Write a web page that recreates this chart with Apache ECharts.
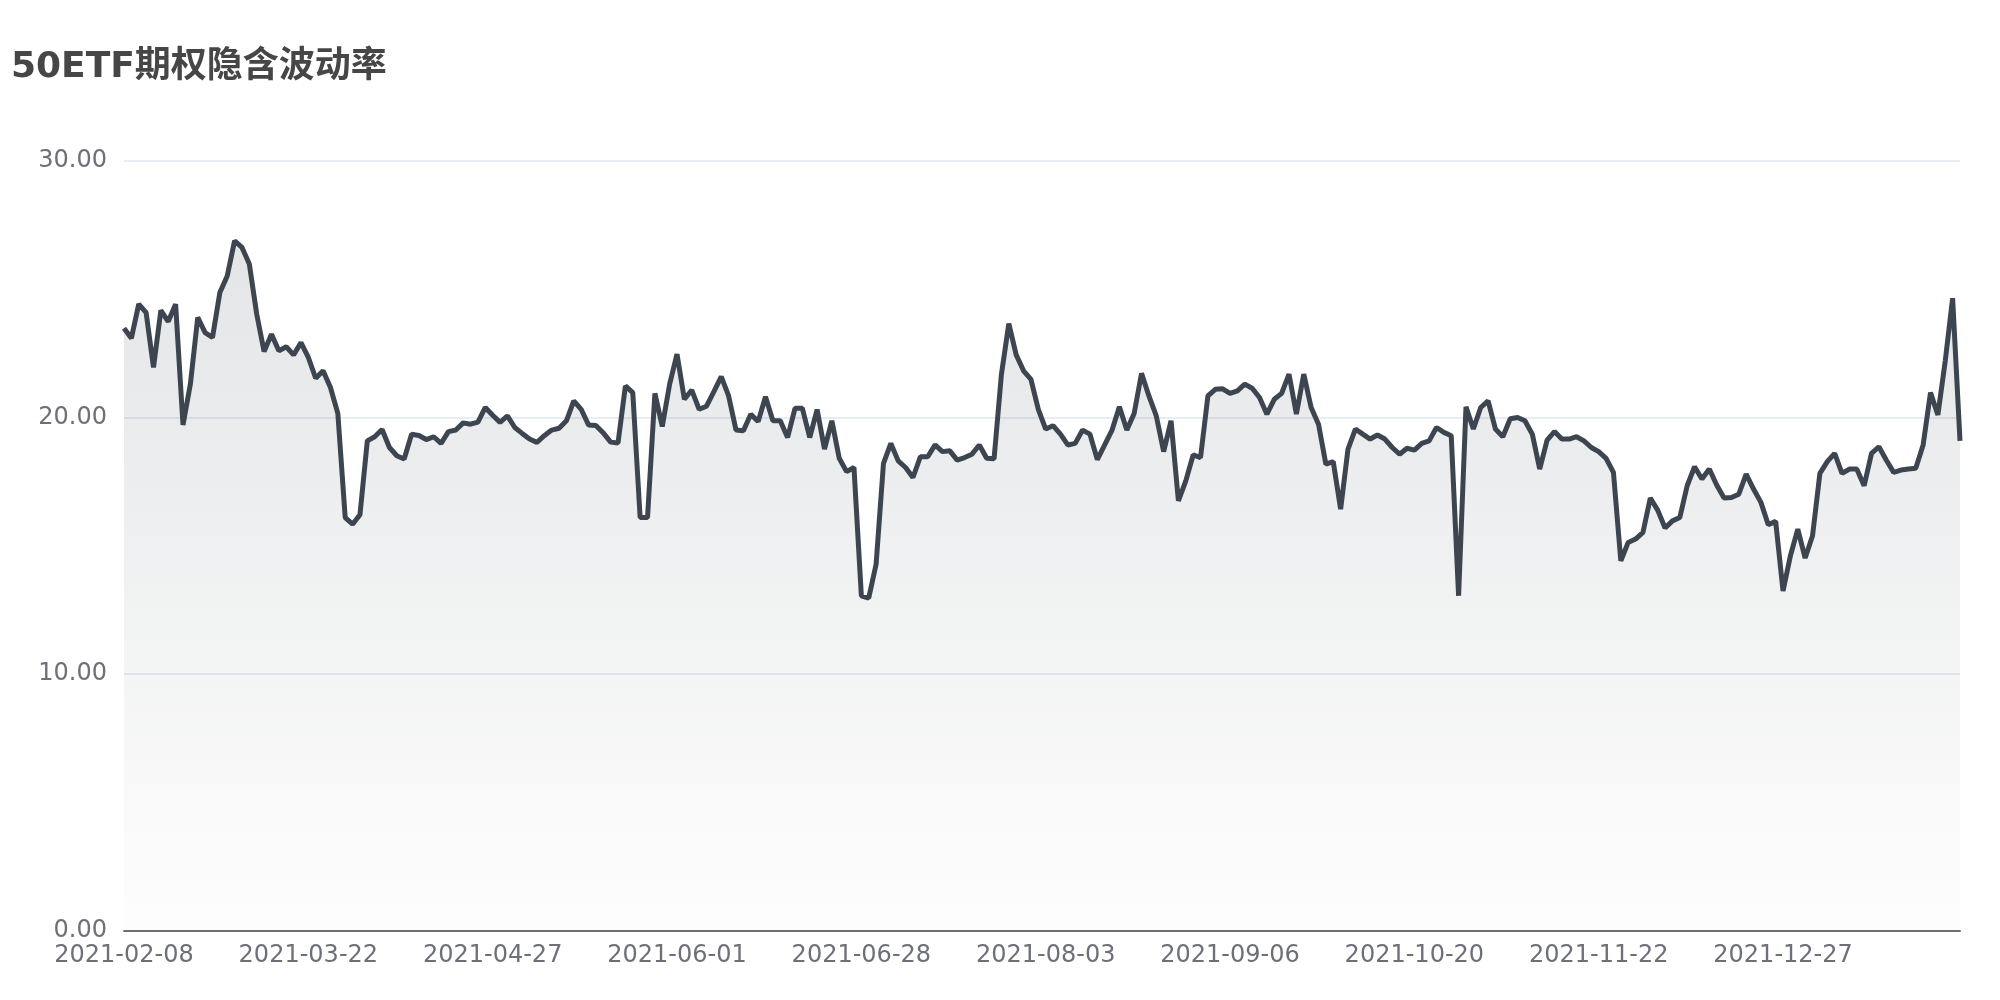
<!DOCTYPE html>
<html>
<head>
<meta charset="utf-8">
<script src="https://cdn.jsdelivr.net/npm/echarts@6/dist/echarts.min.js"></script>
<style>html,body{margin:0;padding:0;background:#fff}#c{width:2000px;height:1000px}</style>
</head>
<body>
<div id="c"></div>
<script>
const titleText = '50ETF期权隐含波动率';

const dates = [
'2021-02-08','2021-02-09','2021-02-10','2021-02-18','2021-02-19','2021-02-22','2021-02-23','2021-02-24','2021-02-25','2021-02-26',
'2021-03-01','2021-03-02','2021-03-03','2021-03-04','2021-03-05','2021-03-08','2021-03-09','2021-03-10','2021-03-11','2021-03-12',
'2021-03-15','2021-03-16','2021-03-17','2021-03-18','2021-03-19',
'2021-03-22','2021-03-23','2021-03-24','2021-03-25','2021-03-26','2021-03-29','2021-03-30','2021-03-31','2021-04-01','2021-04-02',
'2021-04-06','2021-04-07','2021-04-08','2021-04-09','2021-04-12','2021-04-13','2021-04-14','2021-04-15','2021-04-16','2021-04-19',
'2021-04-20','2021-04-21','2021-04-22','2021-04-23','2021-04-26',
'2021-04-27','2021-04-28','2021-04-29','2021-04-30','2021-05-03','2021-05-04','2021-05-05','2021-05-06','2021-05-07','2021-05-10',
'2021-05-11','2021-05-12','2021-05-13','2021-05-14','2021-05-17','2021-05-18','2021-05-19','2021-05-20','2021-05-21','2021-05-24',
'2021-05-25','2021-05-26','2021-05-27','2021-05-28','2021-05-31',
'2021-06-01','2021-06-02','2021-06-03','2021-06-04','2021-06-05','2021-06-07','2021-06-08','2021-06-09','2021-06-10','2021-06-11',
'2021-06-12','2021-06-14','2021-06-15','2021-06-16','2021-06-17','2021-06-18','2021-06-19','2021-06-20','2021-06-21','2021-06-22',
'2021-06-23','2021-06-24','2021-06-25','2021-06-26','2021-06-27',
'2021-06-28','2021-06-29','2021-06-30','2021-07-01','2021-07-02','2021-07-05','2021-07-06','2021-07-07','2021-07-08','2021-07-09',
'2021-07-12','2021-07-13','2021-07-14','2021-07-15','2021-07-16','2021-07-19','2021-07-20','2021-07-21','2021-07-22','2021-07-23',
'2021-07-26','2021-07-27','2021-07-28','2021-07-29','2021-07-30',
'2021-08-03','2021-08-04','2021-08-05','2021-08-06','2021-08-09','2021-08-10','2021-08-11','2021-08-12','2021-08-13','2021-08-16',
'2021-08-17','2021-08-18','2021-08-19','2021-08-20','2021-08-23','2021-08-24','2021-08-25','2021-08-26','2021-08-27','2021-08-30',
'2021-08-31','2021-09-01','2021-09-02','2021-09-03','2021-09-04',
'2021-09-06','2021-09-07','2021-09-08','2021-09-09','2021-09-10','2021-09-13','2021-09-14','2021-09-15','2021-09-16','2021-09-17',
'2021-09-22','2021-09-23','2021-09-24','2021-09-27','2021-09-28','2021-09-29','2021-09-30','2021-10-08','2021-10-11','2021-10-12',
'2021-10-13','2021-10-14','2021-10-15','2021-10-18','2021-10-19',
'2021-10-20','2021-10-21','2021-10-22','2021-10-23','2021-10-25','2021-10-26','2021-10-27','2021-10-28','2021-10-29','2021-11-01',
'2021-11-02','2021-11-03','2021-11-04','2021-11-05','2021-11-06','2021-11-08','2021-11-09','2021-11-10','2021-11-11','2021-11-12',
'2021-11-15','2021-11-16','2021-11-17','2021-11-18','2021-11-19',
'2021-11-22','2021-11-23','2021-11-24','2021-11-25','2021-11-26','2021-11-29','2021-11-30','2021-12-01','2021-12-02','2021-12-03',
'2021-12-06','2021-12-07','2021-12-08','2021-12-09','2021-12-10','2021-12-13','2021-12-14','2021-12-15','2021-12-16','2021-12-17',
'2021-12-20','2021-12-21','2021-12-22','2021-12-23','2021-12-24',
'2021-12-27','2021-12-28','2021-12-29','2021-12-30','2021-12-31','2022-01-04','2022-01-05','2022-01-06','2022-01-07','2022-01-10',
'2022-01-11','2022-01-12','2022-01-13','2022-01-14','2022-01-17','2022-01-18','2022-01-19','2022-01-20','2022-01-21','2022-01-24',
'2022-01-25','2022-01-26','2022-01-27','2022-01-28','2022-01-29'
];

const ivValues = [
23.48,23.09,24.42,24.09,21.95,24.18,23.74,24.42,19.71,21.30,
23.90,23.31,23.12,24.87,25.52,26.89,26.63,25.98,24.03,22.57,
23.25,22.60,22.76,22.44,22.92,22.34,21.53,21.82,21.17,20.16,
16.10,15.84,16.21,19.09,19.25,19.53,18.83,18.51,18.38,19.35,
19.30,19.14,19.25,18.99,19.45,19.51,19.79,19.74,19.82,20.39,
20.09,19.81,20.06,19.61,19.38,19.16,19.03,19.29,19.51,19.58,
19.87,20.65,20.32,19.71,19.69,19.40,19.04,19.01,21.23,20.97,
16.10,16.10,20.94,19.65,21.30,22.47,20.71,21.07,20.32,20.44,
21.01,21.59,20.84,19.51,19.48,20.13,19.84,20.81,19.87,19.87,
19.22,20.36,20.36,19.22,20.31,18.77,19.87,18.41,17.89,18.05,
13.05,12.96,14.28,18.21,18.99,18.31,18.05,17.66,18.47,18.47,
18.93,18.67,18.70,18.34,18.44,18.57,18.93,18.41,18.39,21.69,
23.66,22.44,21.82,21.49,20.32,19.55,19.68,19.35,18.93,18.99,
19.51,19.35,18.36,18.93,19.51,20.42,19.51,20.16,21.72,20.84,
20.06,18.67,19.87,16.75,17.53,18.54,18.44,20.84,21.10,21.12,
20.94,21.04,21.30,21.14,20.78,20.13,20.71,20.94,21.69,20.13,
21.69,20.39,19.74,18.18,18.28,16.43,18.77,19.55,19.35,19.16,
19.32,19.16,18.83,18.57,18.80,18.73,18.99,19.09,19.61,19.42,
19.29,13.05,20.42,19.55,20.39,20.65,19.55,19.25,19.95,20.00,
19.87,19.35,17.99,19.12,19.45,19.16,19.16,19.25,19.09,18.83,
18.67,18.41,17.86,14.41,15.13,15.26,15.52,16.86,16.39,15.69,
15.97,16.10,17.34,18.08,17.60,17.99,17.37,16.86,16.88,17.01,
17.79,17.21,16.69,15.82,15.95,13.24,14.61,15.65,14.52,15.39,
17.82,18.28,18.60,17.82,17.99,17.99,17.34,18.60,18.86,18.34,
17.86,17.95,17.99,18.02,18.93,20.97,20.10,22.21,24.65,19.09
];

const yMin = 0, yMax = 30, yStep = 10;

const chart = echarts.init(document.getElementById('c'), null, {renderer: 'canvas'});
chart.setOption({
  animation: false,
  backgroundColor: '#ffffff',
  title: {
    text: titleText,
    left: 11, top: 50, padding: 0,
    textStyle: {fontSize: 36, fontWeight: 'bold', color: '#464646', fontFamily: 'DejaVu Sans, Noto Sans CJK SC, sans-serif'}
  },
  grid: {left: 124, right: 40, top: 161, bottom: 69.5, containLabel: false},
  xAxis: {
    type: 'category',
    data: dates,
    boundaryGap: false,
    axisLine: {show: true, lineStyle: {color: '#6E7079', width: 2}},
    axisTick: {show: false},
    axisLabel: {interval: 24, color: '#6E7079', fontSize: 24, margin: 13, fontFamily: 'DejaVu Sans, sans-serif'},
    splitLine: {show: false}
  },
  yAxis: {
    type: 'value',
    min: yMin, max: yMax, interval: yStep,
    axisLine: {show: false},
    axisTick: {show: false},
    axisLabel: {color: '#6E7079', fontSize: 24, margin: 17, fontFamily: 'DejaVu Sans, sans-serif',
      formatter: v => v.toFixed(2)},
    splitLine: {show: true, lineStyle: {color: '#E0E6F1', width: 1.5}}
  },
  series: [{
    type: 'line',
    data: ivValues,
    showSymbol: false,
    symbol: 'none',
    smooth: false,
    lineStyle: {color: '#3d4650', width: 5},
    itemStyle: {color: '#3d4650'},
    areaStyle: {
      color: new echarts.graphic.LinearGradient(0, 0, 0, 1, [
        {offset: 0, color: 'rgba(61,70,80,0.2)'},
        {offset: 1, color: 'rgba(61,70,80,0.01)'}
      ])
    }
  }]
});
</script>
</body>
</html>
